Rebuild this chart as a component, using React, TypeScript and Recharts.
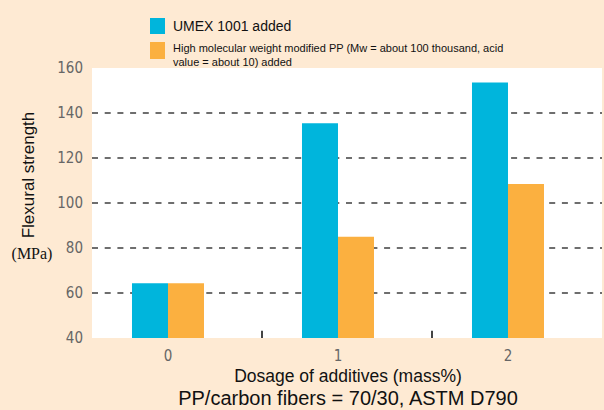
import { Bar, BarChart, CartesianGrid, Label, ReferenceLine, XAxis, YAxis } from 'recharts'

const dosages = [0, 1, 2]
const umexValues = [64.3, 135.5, 153.6]
const highMwValues = [64.3, 85, 108.4]
const yTicks = [40, 60, 80, 100, 120, 140, 160]
const gridValues = [60, 80, 100, 120, 140]
const dividerPositions = [0.553, 1.553]

const seriesNames = [
  'UMEX 1001 added',
  'High molecular weight modified PP (Mw = about 100 thousand, acid value = about 10) added',
]

const BLUE = '#00b5dc'
const ORANGE = '#fbb040'
const BG = '#feead3'
const TICK_FONT = "'DejaVu Sans Condensed', 'Liberation Sans Narrow', sans-serif"

const data = dosages.map((d, i) => ({ dosage: d, umex: umexValues[i], highMw: highMwValues[i] }))

function LegendBox() {
  return (
    <div
      style={{
        position: 'absolute',
        top: 15,
        left: 150,
        width: 440,
        fontFamily: 'Arial, "Liberation Sans", sans-serif',
        color: '#111',
      }}
    >
      <div style={{ display: 'flex', alignItems: 'center', height: 22 }}>
        <span style={{ width: 15, height: 16, background: BLUE, display: 'inline-block', marginRight: 8 }} />
        <span style={{ fontSize: 14 }}>{seriesNames[0]}</span>
      </div>
      <div style={{ display: 'flex', alignItems: 'flex-start', marginTop: 4 }}>
        <span style={{ width: 15, height: 17, background: ORANGE, display: 'inline-block', marginRight: 8, marginTop: 1, flexShrink: 0 }} />
        <span style={{ fontSize: 11, lineHeight: '14px' }}>
          High molecular weight modified PP (Mw = about 100 thousand, acid
          <br />
          value = about 10) added
        </span>
      </div>
    </div>
  )
}

function YTitle() {
  return (
    <g>
      <text
        x={34}
        y={175}
        transform="rotate(-90 34 175)"
        textAnchor="middle"
        fontFamily="Arial, 'Liberation Sans', sans-serif"
        fontSize={17}
        fill="#111"
      >
        Flexural strength
      </text>
      <text x={32} y={259} textAnchor="middle" fontFamily="'Liberation Serif', 'Times New Roman', serif" fontSize={16} fill="#111">
        (MPa)
      </text>
    </g>
  )
}

function XTitle() {
  return (
    <g fontFamily="Arial, 'Liberation Sans', sans-serif" fill="#111">
      <text x={348} y={382} textAnchor="middle" fontSize={17.5}>
        Dosage of additives (mass%)
      </text>
      <text x={348} y={405} textAnchor="middle" fontSize={20}>
        PP/carbon fibers = 70/30, ASTM D790
      </text>
    </g>
  )
}

export default function App() {
  return (
    <div style={{ position: 'absolute', left: 0, top: 0, width: 604, height: 410, background: BG }}>
      <BarChart
        width={604}
        height={410}
        data={data}
        margin={{ top: 68, right: 2, bottom: 42, left: 32 }}
        barGap={0}
        barSize={36}
      >
        <CartesianGrid
          fill="#ffffff"
          fillOpacity={1}
          vertical={false}
          horizontalValues={gridValues}
          stroke="#6e6e6e"
          strokeWidth={2}
          strokeDasharray="6 6.7"
        />
        <XAxis
          dataKey="dosage"
          type="number"
          height={30}
          domain={[-0.447, 2.553]}
          ticks={dosages}
          axisLine={false}
          tickLine={false}
          tickSize={0}
          tickMargin={12}
          tick={{ fontFamily: TICK_FONT, fontSize: 15, fill: '#666' }}
          allowDataOverflow
        >
          <Label content={<XTitle />} />
        </XAxis>
        <YAxis
          width={60}
          domain={[40, 160]}
          ticks={yTicks}
          axisLine={false}
          tickLine={false}
          tickSize={0}
          tickMargin={9}
          tick={{ fontFamily: TICK_FONT, fontSize: 15, fill: '#666' }}
          allowDataOverflow
        >
          <Label content={<YTitle />} />
        </YAxis>
        <Bar dataKey="umex" name={seriesNames[0]} fill={BLUE} isAnimationActive={false} />
        <Bar dataKey="highMw" name={seriesNames[1]} fill={ORANGE} isAnimationActive={false} />
        {dividerPositions.map((x) => (
          <ReferenceLine
            key={x}
            segment={[
              { x, y: 40 },
              { x, y: 43.2 },
            ]}
            stroke="#444"
            strokeWidth={2}
          />
        ))}
      </BarChart>
      <LegendBox />
    </div>
  )
}
